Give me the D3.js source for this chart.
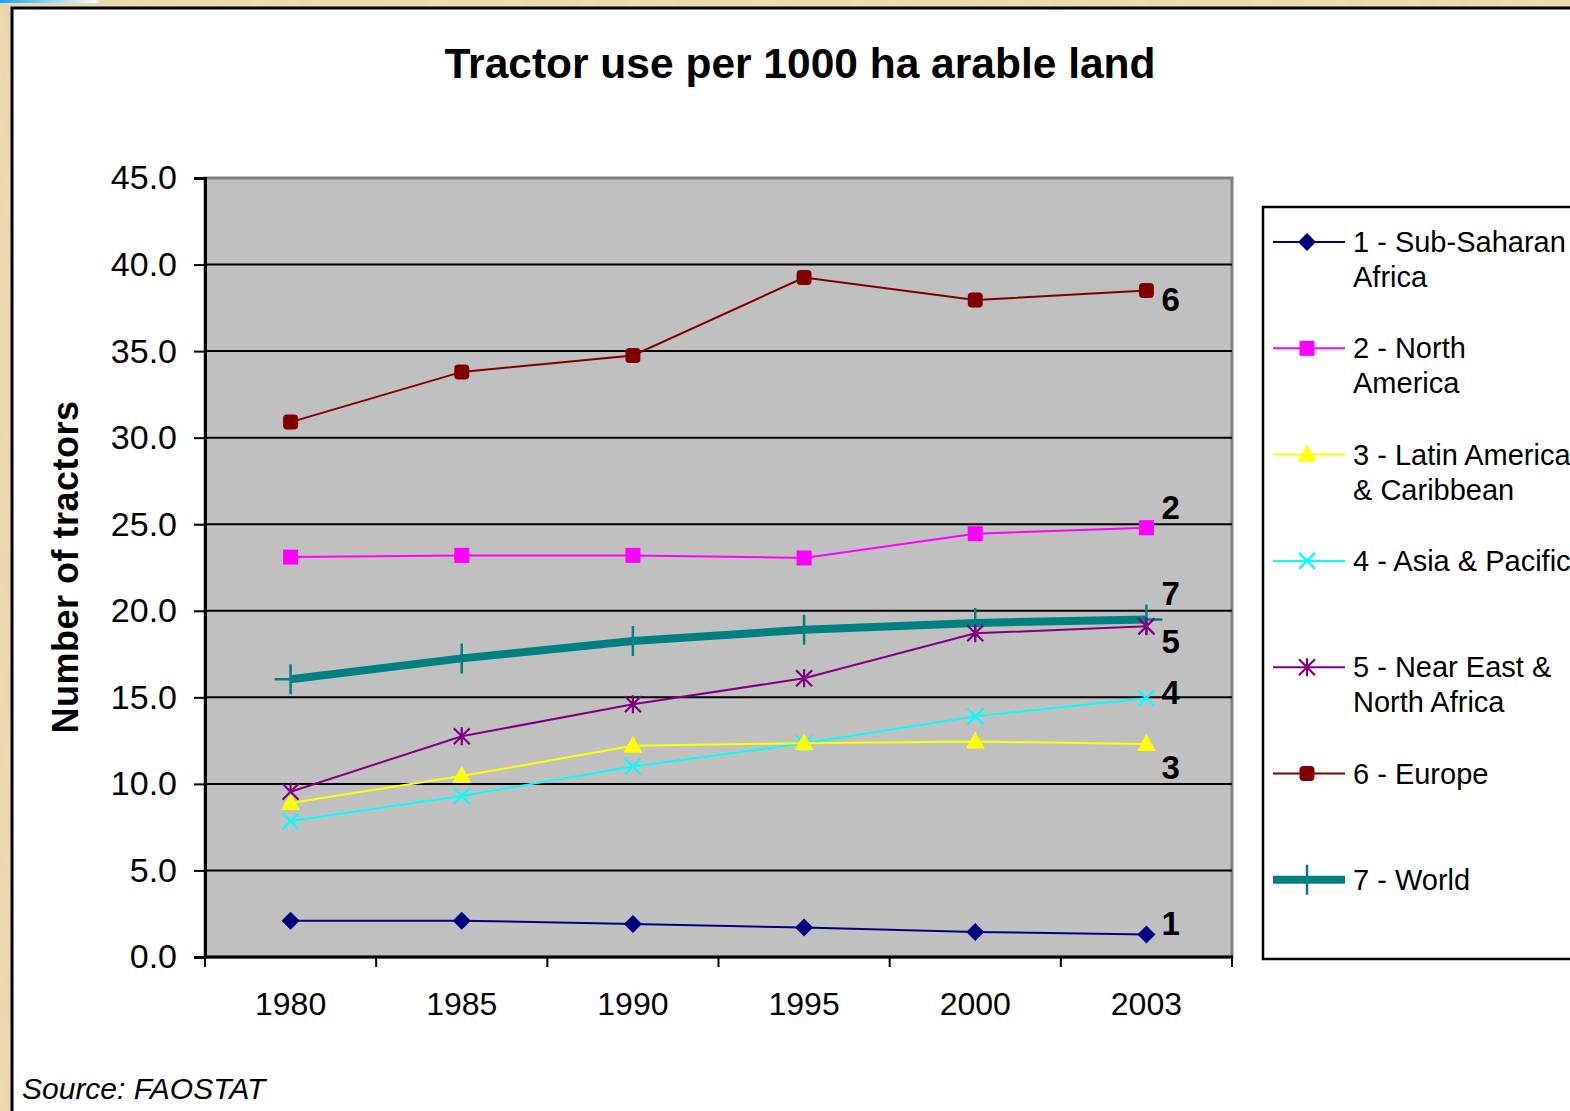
<!DOCTYPE html>
<html>
<head>
<meta charset="utf-8">
<script src="https://cdn.jsdelivr.net/npm/d3@7"></script>
<style>
  html, body { margin: 0; padding: 0; background: #e8d6ab; }
  svg { display: block; font-family: "Liberation Sans", Arial, sans-serif; }
</style>
</head>
<body>
<svg id="chart" width="1570" height="1111"></svg>
<script>
// Chart data
const years = ['1980', '1985', '1990', '1995', '2000', '2003'];
const yTicks = [0, 5, 10, 15, 20, 25, 30, 35, 40, 45];

const seriesNames = [
  ['1 - Sub-Saharan', 'Africa'],
  ['2 - North', 'America'],
  ['3 - Latin America', '& Caribbean'],
  ['4 - Asia & Pacific'],
  ['5 - Near East &', 'North Africa'],
  ['6 - Europe'],
  ['7 - World'],
];
const endLabels = ['1', '2', '3', '4', '5', '6', '7'];

const subSaharan = [2.1, 2.1, 1.9, 1.7, 1.45, 1.3];
const northAmerica = [23.1, 23.2, 23.2, 23.05, 24.45, 24.8];
const latinAmerica = [8.9, 10.45, 12.2, 12.35, 12.45, 12.3];
const asiaPacific = [7.85, 9.3, 11.0, 12.35, 13.9, 14.95];
const nearEast = [9.55, 12.75, 14.6, 16.1, 18.7, 19.1];
const europe = [30.9, 33.8, 34.75, 39.25, 37.95, 38.5];
const world = [16.05, 17.25, 18.25, 18.9, 19.3, 19.5];

const seriesValues = [subSaharan, northAmerica, latinAmerica, asiaPacific, nearEast, europe, world];

// Styles for each series (same order as above)
const seriesColors = ['#000080', '#ff00ff', '#ffff00', '#00ffff', '#800080', '#800000', '#008080'];
const seriesWidths = [2, 2, 2, 2, 2, 2, 8];
const seriesMarkers = ['diamond', 'square', 'triangle', 'cross', 'star', 'round', 'plus'];
// vertical nudge for the bold end labels, relative to the last point
const labelNudge = [1, -9, 35, 6, 27, 20, -14];

const svg = d3.select('#chart');
const W = 1570, H = 1111;

// --- parchment backdrop
const defs = svg.append('defs');
const paper = defs.append('filter').attr('id', 'paper')
  .attr('x', 0).attr('y', 0).attr('width', '100%').attr('height', '100%');
paper.append('feTurbulence').attr('type', 'fractalNoise')
  .attr('baseFrequency', '0.04 0.02').attr('numOctaves', 3).attr('seed', 4);
paper.append('feColorMatrix').attr('type', 'matrix')
  .attr('values', '0 0 0 0 0.78  0 0 0 0 0.66  0 0 0 0 0.42  0 0 0 -1.1 0.9');

const blue = defs.append('linearGradient').attr('id', 'blueStrip');
blue.append('stop').attr('offset', '0%').attr('stop-color', '#1aa6e6');
blue.append('stop').attr('offset', '100%').attr('stop-color', '#ffffff');

svg.append('rect').attr('width', W).attr('height', H).attr('fill', '#ecdcb4');
svg.append('rect').attr('width', W).attr('height', H).attr('filter', 'url(#paper)');
svg.append('rect').attr('x', 0).attr('y', 0).attr('width', 98).attr('height', 3)
  .attr('fill', 'url(#blueStrip)');

// white chart panel
svg.append('rect')
  .attr('x', 12).attr('y', 8).attr('width', W).attr('height', H)
  .attr('fill', '#fff').attr('stroke', '#000').attr('stroke-width', 3);

// --- plot area
const plot = {left: 205, right: 1232, top: 178, bottom: 957};

const x = d3.scaleBand().domain(years).range([plot.left, plot.right]);
const cx = (yr) => x(yr) + x.bandwidth() / 2;
const y = d3.scaleLinear().domain([0, 45]).range([plot.bottom, plot.top]);

svg.append('rect')
  .attr('x', plot.left).attr('y', plot.top)
  .attr('width', plot.right - plot.left).attr('height', plot.bottom - plot.top)
  .attr('fill', '#c0c0c0').attr('stroke', '#808080').attr('stroke-width', 3);

// gridlines
svg.append('g')
  .selectAll('line')
  .data(yTicks.filter((t) => t > 0 && t < 45))
  .join('line')
  .attr('x1', plot.left).attr('x2', plot.right)
  .attr('y1', (d) => y(d)).attr('y2', (d) => y(d))
  .attr('stroke', '#000').attr('stroke-width', 2);

// y axis
const yAxis = svg.append('g')
  .attr('transform', `translate(${plot.left},0)`)
  .call(d3.axisLeft(y).tickValues(yTicks).tickFormat(d3.format('.1f'))
    .tickSize(11).tickPadding(17));
yAxis.select('.domain').attr('stroke', '#000').attr('stroke-width', 3);
yAxis.selectAll('.tick line').attr('stroke', '#000').attr('stroke-width', 2);
yAxis.selectAll('text').attr('font-size', 34).attr('fill', '#000')
  .attr('font-family', '"Liberation Sans", Arial, sans-serif');

// x axis: labels centred in bands, ticks on the band edges
const xAxis = svg.append('g')
  .attr('transform', `translate(0,${plot.bottom})`)
  .call(d3.axisBottom(x).tickSize(0).tickPadding(35));
xAxis.select('.domain').remove();
xAxis.selectAll('text').attr('font-size', 32).attr('fill', '#000')
  .attr('font-family', '"Liberation Sans", Arial, sans-serif');

const edges = d3.range(years.length + 1).map((i) => plot.left + i * x.step());
svg.append('line')
  .attr('x1', plot.left - 1).attr('x2', plot.right + 1)
  .attr('y1', plot.bottom).attr('y2', plot.bottom)
  .attr('stroke', '#000').attr('stroke-width', 3);
svg.append('g').selectAll('line').data(edges).join('line')
  .attr('x1', (d) => d).attr('x2', (d) => d)
  .attr('y1', plot.bottom).attr('y2', plot.bottom + 10)
  .attr('stroke', '#000').attr('stroke-width', 2);

// --- marker drawing
function drawMarker(g, kind, color, px, py) {
  if (kind === 'diamond') {
    g.append('path').attr('d', `M${px},${py - 9}L${px + 9},${py}L${px},${py + 9}L${px - 9},${py}Z`)
      .attr('fill', color);
  } else if (kind === 'square') {
    g.append('rect').attr('x', px - 7.5).attr('y', py - 7.5).attr('width', 15).attr('height', 15)
      .attr('fill', color);
  } else if (kind === 'triangle') {
    g.append('path').attr('d', `M${px},${py - 10}L${px + 9.5},${py + 7}L${px - 9.5},${py + 7}Z`)
      .attr('fill', color);
  } else if (kind === 'cross') {
    g.append('path').attr('d', `M${px - 8},${py - 8}L${px + 8},${py + 8}M${px - 8},${py + 8}L${px + 8},${py - 8}`)
      .attr('stroke', color).attr('stroke-width', 2.2);
  } else if (kind === 'star') {
    g.append('path')
      .attr('d', `M${px - 8},${py - 8}L${px + 8},${py + 8}M${px - 8},${py + 8}L${px + 8},${py - 8}M${px},${py - 9}L${px},${py + 9}`)
      .attr('stroke', color).attr('stroke-width', 2.2);
  } else if (kind === 'round') {
    g.append('rect').attr('x', px - 7.5).attr('y', py - 7.5).attr('width', 15).attr('height', 15)
      .attr('rx', 4).attr('fill', color);
  } else if (kind === 'plus') {
    g.append('path').attr('d', `M${px - 16},${py}L${px + 16},${py}M${px},${py - 15}L${px},${py + 15}`)
      .attr('stroke', color).attr('stroke-width', 2.5);
  }
}

// --- series lines (drawn world last, as in the reference)
const line = d3.line().x((d, i) => cx(years[i])).y((d) => y(d));
const order = [6, 5, 4, 3, 2, 1, 0];
order.forEach((s) => {
  const g = svg.append('g');
  g.append('path')
    .attr('d', line(seriesValues[s]))
    .attr('fill', 'none')
    .attr('stroke', seriesColors[s])
    .attr('stroke-width', seriesWidths[s]);
  seriesValues[s].forEach((v, i) => drawMarker(g, seriesMarkers[s], seriesColors[s], cx(years[i]), y(v)));
});

// end labels
svg.append('g').selectAll('text')
  .data(endLabels)
  .join('text')
  .attr('x', cx(years[years.length - 1]) + 15)
  .attr('y', (d, i) => y(seriesValues[i][years.length - 1]) + labelNudge[i])
  .attr('font-size', 33).attr('font-weight', 'bold').attr('fill', '#000')
  .text((d) => d);

// --- title & axis label
svg.append('text')
  .attr('x', 800).attr('y', 78)
  .attr('text-anchor', 'middle')
  .attr('font-size', 42.5).attr('font-weight', 'bold')
  .text('Tractor use per 1000 ha arable land');

svg.append('text')
  .attr('transform', 'translate(78,567) rotate(-90)')
  .attr('text-anchor', 'middle')
  .attr('font-size', 36).attr('font-weight', 'bold').attr('letter-spacing', 0.5)
  .text('Number of tractors');

// --- legend
const legend = svg.append('g');
legend.append('rect')
  .attr('x', 1263).attr('y', 207).attr('width', 400).attr('height', 752)
  .attr('fill', '#fff').attr('stroke', '#000').attr('stroke-width', 2.5);

seriesNames.forEach((lines, i) => {
  const ly = 242 + i * 106.3;
  const g = legend.append('g');
  g.append('line')
    .attr('x1', 1273).attr('x2', 1345).attr('y1', ly).attr('y2', ly)
    .attr('stroke', seriesColors[i]).attr('stroke-width', seriesWidths[i]);
  drawMarker(g, seriesMarkers[i], seriesColors[i], 1307, ly);
  lines.forEach((t, k) => {
    g.append('text')
      .attr('x', 1353).attr('y', ly + 10 + k * 35)
      .attr('font-size', 29).attr('fill', '#000')
      .text(t);
  });
});

// --- source note
svg.append('text')
  .attr('x', 22).attr('y', 1099)
  .attr('font-size', 30).attr('font-style', 'italic')
  .text('Source: FAOSTAT');
</script>
</body>
</html>
